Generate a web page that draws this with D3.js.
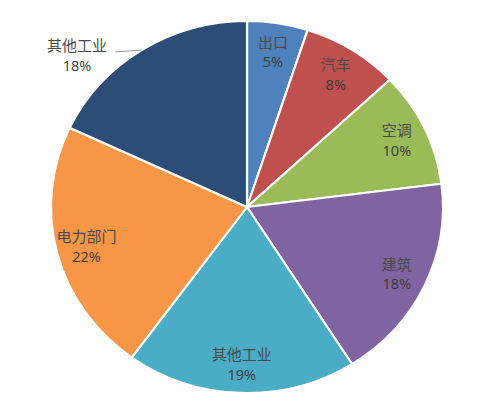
<!DOCTYPE html>
<html><head><meta charset="utf-8">
<script src="https://cdn.jsdelivr.net/npm/d3@7"></script>
<style>body{margin:0;background:#fff}</style>
</head><body>
<svg id="chart" width="499" height="414"></svg>
<script>
const categories = ["出口","汽车","空调","建筑","其他工业","电力部门","其他工业"];
const values = [5, 8, 10, 18, 19, 22, 18];
const labels = ["5%","8%","10%","18%","19%","22%","18%"];
const colors = ["#4F81BD","#C0504D","#9BBB59","#8064A2","#4BACC6","#F79646","#2C4D75"];

const W = 499, H = 414;
const cx = 247, cy = 207, rx = 196, ry = 186;
const ratio = ry / rx;
const svg = d3.select("#chart");

const data = categories.map((c, i) => ({cat: c, v: values[i], lab: labels[i], col: colors[i], i}));
const pie = d3.pie().value(d => d.v).sort(null);
const arcs = pie(data);
const arc = d3.arc().innerRadius(0).outerRadius(rx);

const g = svg.append("g").attr("transform", `translate(${cx},${cy}) scale(1,${ratio})`);
g.selectAll("path").data(arcs).enter().append("path")
  .attr("d", arc)
  .attr("fill", d => d.data.col)
  .attr("stroke", "#fff")
  .attr("stroke-width", 2.2)
  .attr("stroke-linejoin", "round");

const k = 0.845;
const labelArc = d3.arc().innerRadius(rx * k).outerRadius(rx * k);
const tg = svg.append("g");
arcs.forEach((d, idx) => {
  let x, y;
  if (idx === arcs.length - 1) {
    // outside label with leader line
    const a = (d.startAngle + d.endAngle) / 2;
    const ex = cx + Math.sin(a) * rx, ey = cy - Math.cos(a) * ry;
    x = 77; y = 55;
    tg.append("path")
      .attr("d", `M${ex},${ey}L${x + 38},${ey + 2}`)
      .attr("stroke", "#999").attr("stroke-width", 1).attr("fill", "none");
  } else {
    const c = labelArc.centroid(d);
    x = cx + c[0];
    y = cy + c[1] * ratio;
  }
  tg.append("text").attr("x", x).attr("y", y - 10.5)
    .attr("text-anchor", "middle").attr("dominant-baseline", "central")
    .attr("font-family", "'Noto Sans CJK SC', sans-serif").attr("font-size", 15)
    .attr("fill", "#4a4a4a").text(d.data.cat);
  tg.append("text").attr("x", x).attr("y", y + 10)
    .attr("text-anchor", "middle").attr("dominant-baseline", "central")
    .attr("font-family", "'Open Sans', sans-serif").attr("font-size", 14.5)
    .attr("fill", "#3a3a3a").text(d.data.lab);
});
</script>
</body></html>
